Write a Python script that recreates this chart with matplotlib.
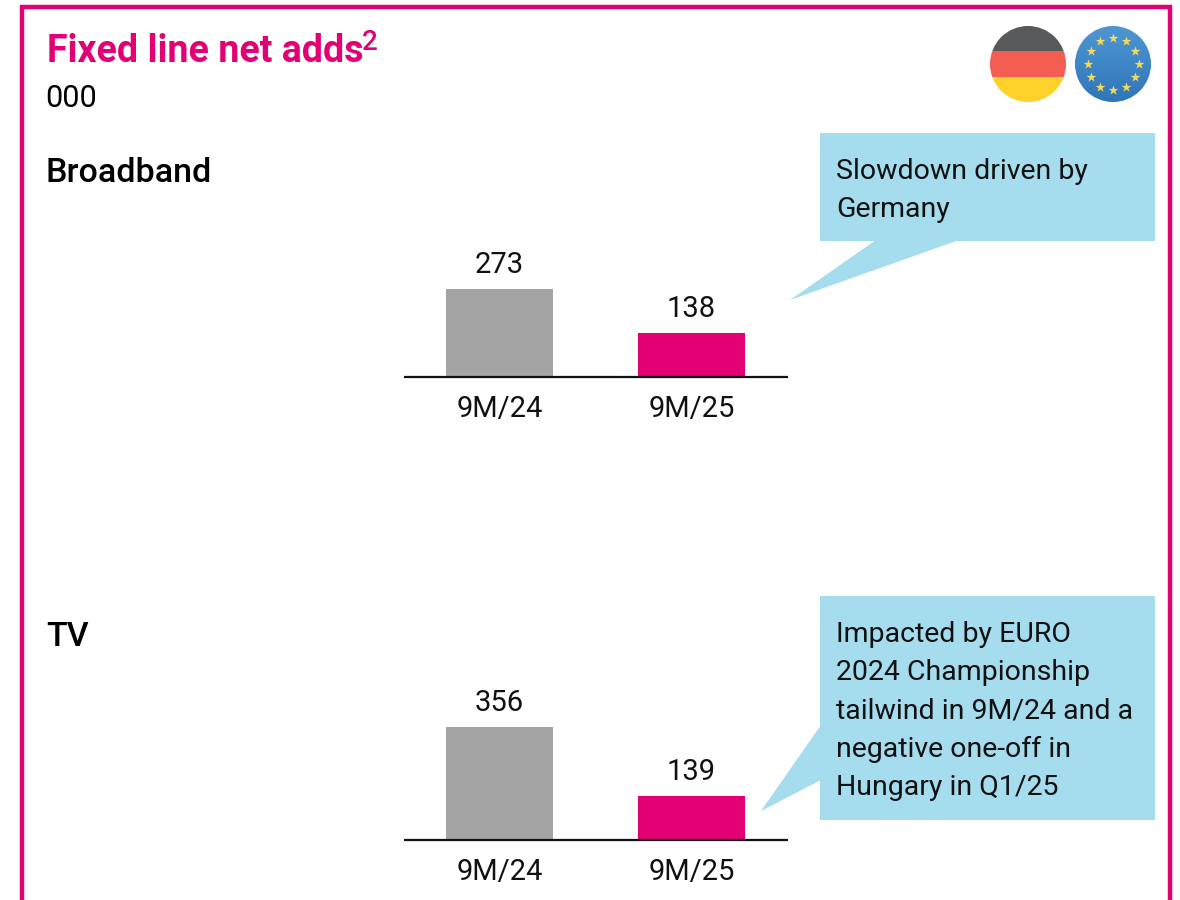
import numpy as np
import matplotlib
matplotlib.use("Agg")
import matplotlib.pyplot as plt
from matplotlib.patches import Circle, Polygon, Rectangle

plt.rcParams["font.family"] = ["Roboto", "DejaVu Sans"]

W, H = 1180, 900
MAGENTA = "#e20074"
GREY = "#a4a4a4"
CALLOUT = "#a5dcee"

periods = ["9M/24", "9M/25"]
broadband = [273, 138]
tv = [356, 139]
bar_colors = [GREY, MAGENTA]

title = "Fixed line net adds"
title_sup = "2"
unit = "000"
broadband_note = "Slowdown driven by\nGermany"
tv_note = ("Impacted by EURO\n2024 Championship\ntailwind in 9M/24 and a\n"
           "negative one-off in\nHungary in Q1/25")

fig = plt.figure(figsize=(W / 100, H / 100), dpi=100)

# overlay in pixel coords, y pointing down
bg = fig.add_axes([0, 0, 1, 1])
bg.set_xlim(0, W)
bg.set_ylim(H, 0)
bg.axis("off")

# frame, runs off the bottom of the picture
bg.plot([22, 22, 1170, 1170], [H, 7, 7, H], color=MAGENTA, lw=3.2,
        solid_joinstyle="miter", clip_on=False)

bg.text(47, 62, title, color=MAGENTA, fontsize=27, fontweight="bold", va="baseline")
bg.text(362, 50, title_sup, color=MAGENTA, fontsize=20, fontweight="medium", va="baseline")
bg.text(45, 107, unit, color="black", fontsize=22, fontweight="normal", va="baseline")
bg.text(46, 182, "Broadband", color="black", fontsize=24.5, fontweight="medium", va="baseline")
bg.text(46, 646, "TV", color="black", fontsize=24.5, fontweight="medium", va="baseline")


def callout(x0, y0, x1, y1, tail, note, text_y):
    bg.add_patch(Rectangle((x0, y0), x1 - x0, y1 - y0, fc=CALLOUT, ec="none"))
    bg.add_patch(Polygon(tail, fc=CALLOUT, ec="none"))
    bg.text(x0 + 16, text_y, note, color="#111111", fontsize=20.5, va="top",
            linespacing=1.54)


callout(820, 133, 1155, 241, [(876, 240), (959, 240), (790, 300)], broadband_note, 158)
callout(820, 596, 1155, 820, [(821, 725), (821, 780), (761, 811)], tv_note, 621)


def bar_panel(values, base_px, px_per_unit):
    # 192 px between the bars
    ax = fig.add_axes([403.5 / W, 1 - base_px / H, 384 / W, 140 / H])
    bars = ax.bar(periods, values, width=0.557, color=bar_colors)
    ax.set_xlim(-0.5, 1.5)
    ax.set_ylim(0, 140 / px_per_unit)
    ax.patch.set_alpha(0)
    for s in ["top", "left", "right"]:
        ax.spines[s].set_visible(False)
    ax.spines["bottom"].set_linewidth(1.6)
    ax.spines["bottom"].set_color("#111111")
    ax.spines["bottom"].set_capstyle("butt")
    ax.set_yticks([])
    ax.tick_params(axis="x", length=0, pad=13, labelsize=21, labelcolor="#111111")
    ax.bar_label(bars, padding=7, fontsize=21, color="#111111")


bar_panel(broadband, 377, 0.322)
bar_panel(tv, 840, 0.318)

# German flag
de = Circle((1028, 64), 38, transform=bg.transData, fc="none", ec="none")
bg.add_patch(de)
for y0, y1, c in [(26, 51, "#58595b"), (51, 77, "#f45d52"), (77, 102, "#ffd22b")]:
    r = bg.add_patch(Rectangle((988, y0), 80, y1 - y0, fc=c, ec="none"))
    r.set_clip_path(de)

# EU flag with a soft vertical gradient
eu = Circle((1113, 64), 38, transform=bg.transData, fc="none", ec="none")
bg.add_patch(eu)
grad = np.linspace(0, 1, 76).reshape(-1, 1)
cmap = matplotlib.colors.LinearSegmentedColormap.from_list("eu", ["#4f97d3", "#2f75b8"])
im = bg.imshow(grad, extent=(1075, 1151, 102, 26), cmap=cmap, aspect="auto", zorder=1)
im.set_clip_path(eu)
bg.set_xlim(0, W)
bg.set_ylim(H, 0)
angles = np.deg2rad(np.arange(0, 360, 30))
bg.scatter(1113 + 25.5 * np.sin(angles), 64 - 26 * np.cos(angles), marker="*",
           s=55, color="#f5d95a", linewidths=0, zorder=2)

fig.savefig("out.png", dpi=100)
